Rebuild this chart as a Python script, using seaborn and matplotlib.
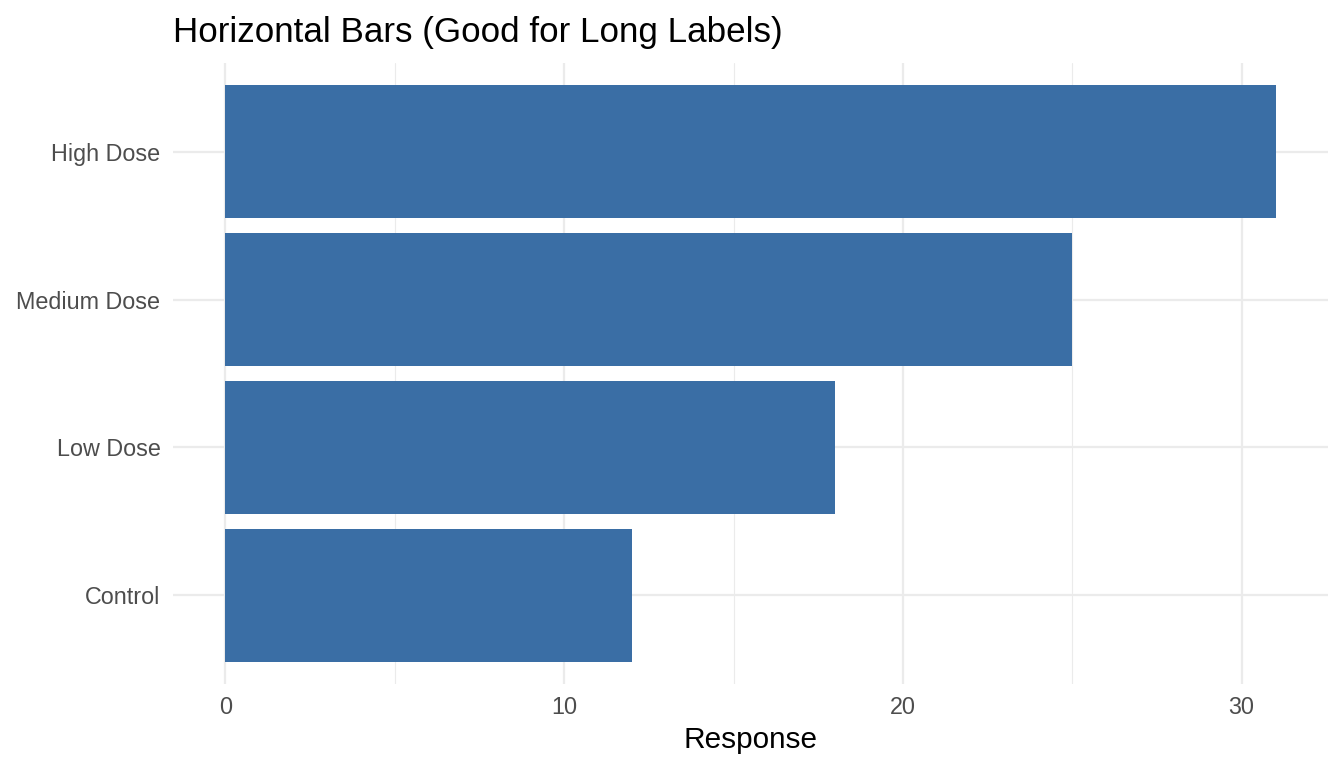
import pandas as pd
import matplotlib.pyplot as plt
import seaborn as sns

# Data
groups = ['High Dose', 'Medium Dose', 'Low Dose', 'Control']
response = [31, 25, 18, 12]

df = pd.DataFrame({'Group': groups, 'Response': response})

sns.set_style('white')
plt.rcParams['font.family'] = ['Liberation Sans', 'DejaVu Sans']

fig = plt.figure(figsize=(13.44, 7.68), dpi=100)
ax = fig.add_axes([173 / 1344, 1 - 684 / 768, (1328 - 173) / 1344, (684 - 63) / 768])

sns.barplot(data=df, x='Response', y='Group', order=groups, color='#3A6EA5',
            saturation=1, width=0.9, linewidth=0, ax=ax, zorder=2)

# ggplot-style expansion
ax.set_xlim(-0.05 * 31, 31 + 0.05 * 31)
ax.set_ylim(3.6, -0.6)

# grid like theme_minimal
ax.set_xticks([0, 10, 20, 30])
ax.set_xticks([5, 15, 25], minor=True)
ax.grid(axis='x', which='major', color='#EBEBEB', linewidth=1.6, zorder=0)
ax.grid(axis='x', which='minor', color='#EBEBEB', linewidth=0.8, zorder=0)
ax.grid(axis='y', which='major', color='#EBEBEB', linewidth=1.6, zorder=0)
ax.set_axisbelow(True)
for s in ax.spines.values():
    s.set_visible(False)
ax.tick_params(axis='both', which='both', length=0, labelsize=16.8, colors='#4D4D4D')
ax.tick_params(axis='x', pad=9)
ax.tick_params(axis='y', pad=9)

ax.set_xlabel('Response', fontsize=21.4, color='black', labelpad=5)
ax.set_ylabel('')
ax.set_title('Horizontal Bars (Good for Long Labels)', fontsize=25.2, loc='left',
             pad=15, color='black')

plt.savefig('out.png', dpi=100)
